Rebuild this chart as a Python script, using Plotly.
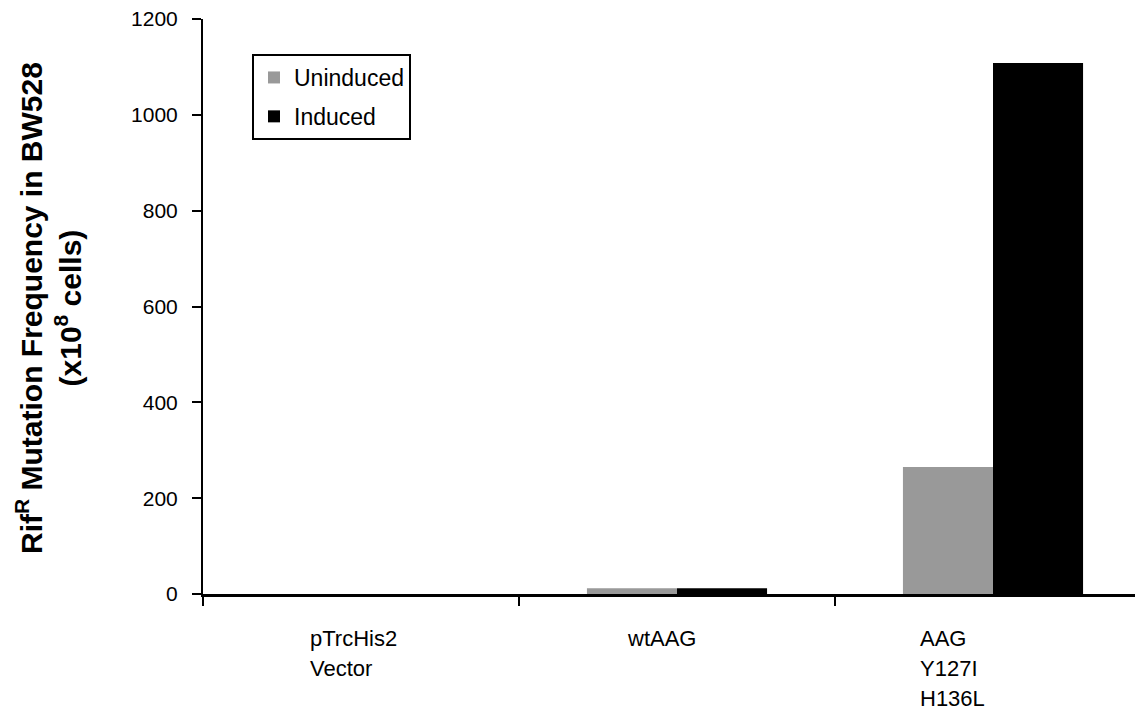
import plotly.graph_objects as go

categories = ["pTrcHis2<br>Vector", "wtAAG", "AAG<br>Y127I<br>H136L"]
uninduced = [0, 12, 265]
induced = [0, 12, 1108]
y_ticks = [0, 200, 400, 600, 800, 1000, 1200]
label_shift = [-53, -52, -75]

W, H = 1143, 711
L, R, T, B = 195, 0, 11, 125
PW, PH = W - L - R, H - T - B

fig = go.Figure()
fig.add_trace(go.Bar(name="Uninduced", x=list(range(3)), y=uninduced, legendgroup="a",
                     marker=dict(color="#999999", line=dict(width=0))))
fig.add_trace(go.Bar(name="Induced", x=list(range(3)), y=induced, legendgroup="b",
                     marker=dict(color="#000000", line=dict(width=0))))

for i, c in enumerate(categories):
    for j, line in enumerate(c.split("<br>")):
        fig.add_annotation(x=i, y=0, xref="x", yref="y", text=line, showarrow=False,
                           xanchor="left", yanchor="top", align="left",
                           xshift=label_shift[i], yshift=-30 - 30 * j,
                           font=dict(size=22, color="black", family="Liberation Sans, Arial"))

fig.add_annotation(xref="paper", yref="paper", x=(40 - L) / PW, y=(586 - 300) / PH,
                   text="<b>Rif<sup>R</sup> Mutation Frequency in BW528<br>(x10<sup>8</sup> cells)</b>",
                   textangle=-90, showarrow=False, xanchor="center", yanchor="middle",
                   font=dict(size=30, color="black", family="Liberation Sans, Arial"))

fig.update_layout(
    width=W, height=H,
    margin=dict(l=L, r=R, t=T, b=B, autoexpand=False),
    paper_bgcolor="white", plot_bgcolor="white",
    barmode="group", bargap=0.43, bargroupgap=0,
    font=dict(family="Liberation Sans, Arial", color="black", size=20),
    showlegend=True,
    legend=dict(x=(244 - L) / PW, y=(586 - 46) / PH, xanchor="left", yanchor="top",
                bordercolor="black", borderwidth=2, bgcolor="white",
                font=dict(size=23), tracegroupgap=6, itemwidth=30),
    xaxis=dict(range=[-0.5, 2.5], showticklabels=False, showgrid=False, zeroline=False,
               showline=True, linecolor="black", linewidth=3,
               tickmode="array", tickvals=[-0.5, 0.5, 1.5, 2.5], ticks="outside",
               ticklen=9, tickwidth=2, tickcolor="black"),
    yaxis=dict(range=[0, 1200], tickvals=y_ticks, showgrid=False, zeroline=False,
               showline=True, linecolor="black", linewidth=2, ticks="outside",
               ticklen=9, tickwidth=2, tickcolor="black", ticklabelstandoff=10,
               ticklabeloverflow="allow",
               tickfont=dict(size=21, color="black")),
)

fig.write_html("out.html")
